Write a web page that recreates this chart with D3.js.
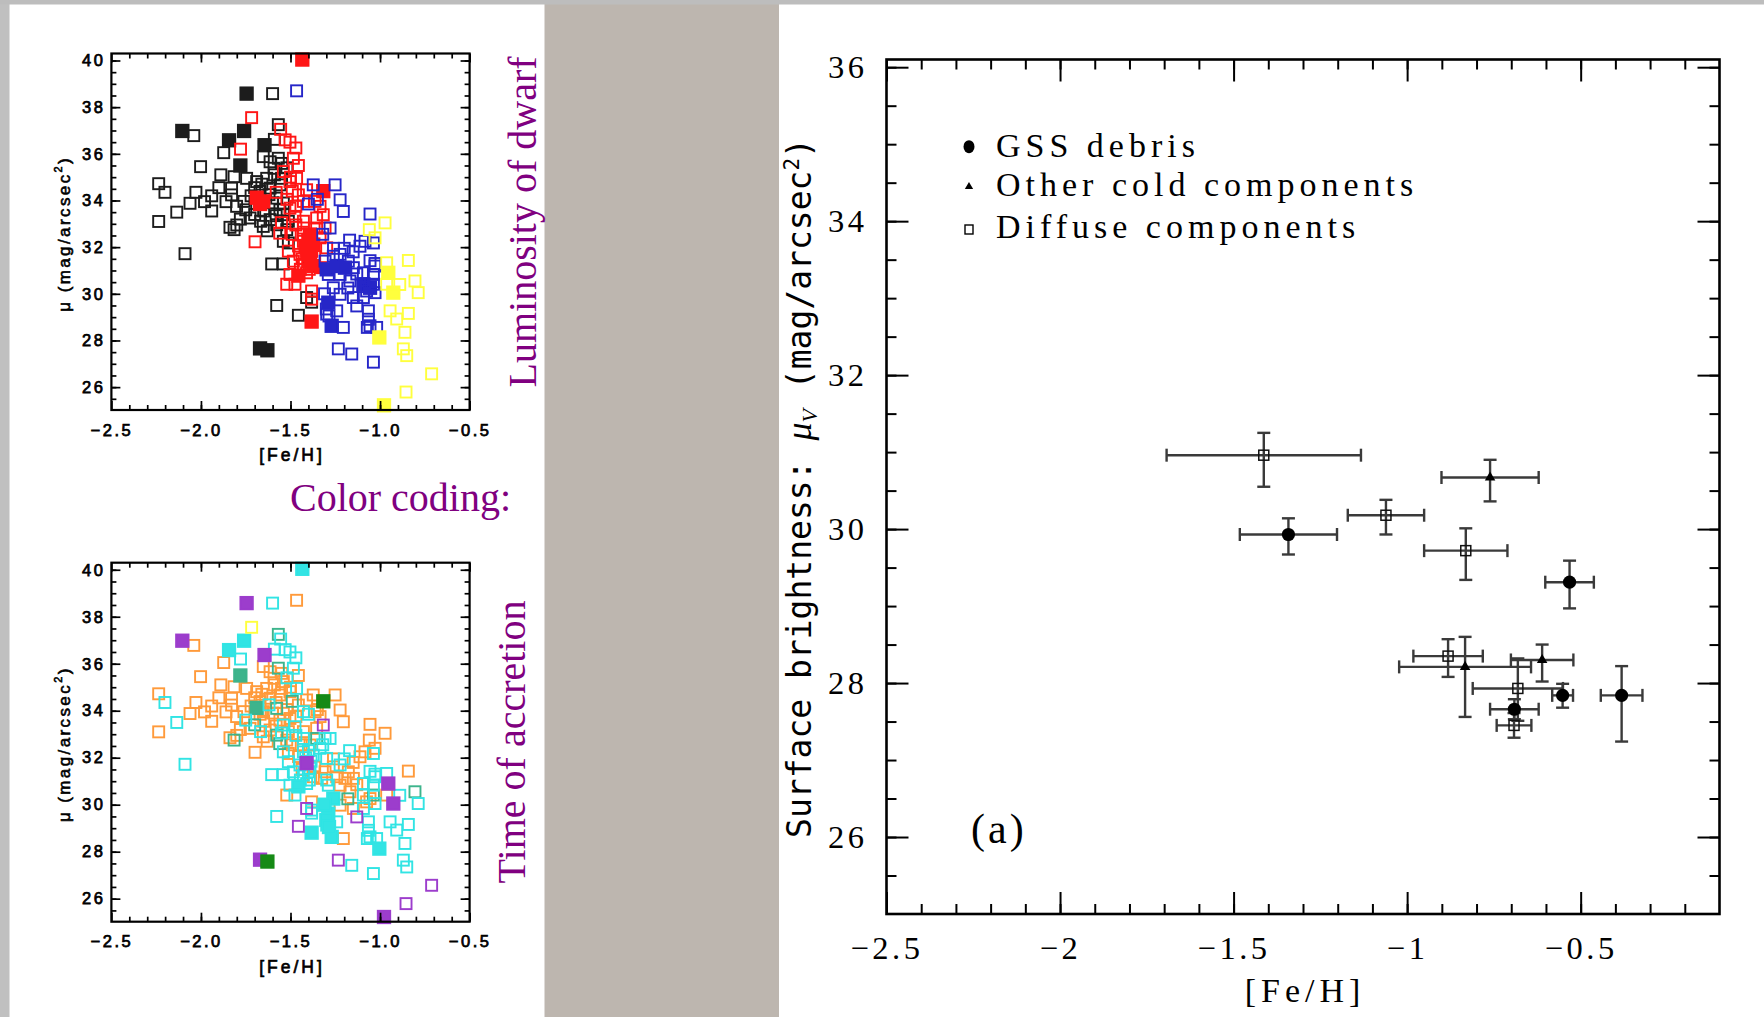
<!DOCTYPE html>
<html>
<head>
<meta charset="utf-8">
<script src="https://cdn.jsdelivr.net/npm/d3@7"></script>
<style>
  body { margin: 0; background: #fff; }
  svg { display: block; }
</style>
</head>
<body>
<svg id="fig" width="1764" height="1017"></svg>
<script>
// Left panels: simulated halo fields, [Fe/H] vs mu, one square per field.
// rows: [feh, mu, accretion-time class, fill]
// fill: 0 open in both panels, 1 filled in both, 2 filled in top panel only, 3 filled in bottom only
const blackPts = [
  [-1.745, 38.58, 'p', 1], [-1.600, 38.58, 'c', 0], [-2.104, 36.98, 'p', 1], [-2.040, 36.78, 'o', 0],
  [-1.759, 36.98, 'c', 1], [-1.568, 37.25, 't', 0], [-1.843, 36.58, 'c', 1], [-1.645, 36.37, 'p', 1],
  [-1.590, 36.62, 'c', 0], [-1.873, 36.05, 'o', 0], [-2.002, 35.45, 'o', 0], [-1.780, 35.50, 't', 1],
  [-1.652, 35.88, 'o', 0], [-1.614, 35.66, 'o', 0], [-1.568, 35.81, 't', 0], [-1.549, 35.59, 'o', 0],
  [-1.592, 35.38, 'o', 0], [-1.889, 35.10, 'o', 0], [-1.815, 35.02, 'o', 0], [-1.745, 34.95, 'o', 0],
  [-1.829, 34.53, 'o', 0], [-2.236, 34.72, 'o', 0], [-2.201, 34.35, 'c', 0], [-2.028, 34.35, 'o', 0],
  [-2.061, 33.88, 'o', 0], [-2.135, 33.50, 'c', 0], [-2.236, 33.10, 'o', 0], [-2.089, 31.72, 'c', 0],
  [-1.940, 34.20, 'o', 0], [-1.940, 33.55, 'o', 0], [-1.829, 34.24, 'o', 0], [-1.801, 33.75, 'o', 0],
  [-1.760, 33.96, 'o', 0], [-1.838, 32.85, 'o', 0], [-1.815, 32.75, 't', 0], [-1.726, 33.25, 'o', 0],
  [-1.667, 33.11, 'c', 0], [-1.652, 32.89, 'o', 0], [-1.614, 33.18, 'o', 0], [-1.577, 32.96, 't', 0],
  [-1.689, 34.81, 'o', 0], [-1.633, 34.95, 'o', 0], [-1.670, 34.39, 'o', 0], [-1.614, 34.53, 'o', 0],
  [-1.559, 34.67, 'o', 0], [-1.577, 34.10, 't', 0], [-1.540, 33.89, 'o', 0], [-1.559, 33.60, 'o', 0],
  [-1.540, 33.39, 'c', 0], [-1.512, 33.11, 'o', 0], [-1.521, 32.75, 'o', 0], [-1.540, 32.25, 'c', 0],
  [-1.512, 32.18, 'o', 0], [-1.605, 31.28, 'c', 0], [-1.540, 31.28, 'c', 0], [-1.577, 29.50, 'c', 0],
  [-1.456, 29.08, 'p', 0], [-1.410, 29.84, 'p', 0], [-1.382, 29.64, 'c', 0], [-1.670, 27.66, 'p', 1],
  [-1.629, 27.58, 'g', 1], [-1.700, 34.55, 'o', 0], [-1.660, 34.70, 'o', 0], [-1.620, 34.25, 'c', 0],
  [-1.600, 33.90, 'o', 0], [-1.650, 33.55, 'o', 0], [-1.700, 33.40, 't', 0], [-1.580, 33.35, 'o', 0],
  [-1.630, 32.70, 'o', 0], [-1.550, 34.95, 'o', 0], [-1.590, 35.10, 'o', 0], [-1.520, 35.40, 'c', 0],
  [-1.720, 34.20, 'o', 0], [-1.750, 33.60, 'c', 0], [-1.780, 33.20, 'o', 0], [-1.860, 33.95, 'o', 0],
  [-1.900, 34.55, 'o', 0], [-1.980, 33.95, 'o', 0], [-1.800, 32.95, 'o', 0]
];
const redPts = [
  [-1.434, 40.04, 'c', 1], [-1.717, 37.55, 'l', 0], [-1.555, 37.05, 'c', 0], [-1.779, 36.20, 'c', 0],
  [-1.503, 36.50, 'c', 0], [-1.530, 36.60, 'c', 0], [-1.470, 36.25, 'c', 0], [-1.484, 35.81, 'c', 0],
  [-1.456, 35.50, 'o', 0], [-1.689, 34.12, 't', 1], [-1.652, 33.96, 'o', 2], [-1.670, 33.85, 'o', 2],
  [-1.698, 32.23, 'o', 0], [-1.317, 34.40, 'g', 1], [-1.540, 35.24, 'o', 0], [-1.503, 34.81, 'o', 0],
  [-1.466, 34.95, 'c', 0], [-1.410, 34.46, 'o', 0], [-1.456, 34.24, 'o', 0], [-1.428, 33.96, 'c', 0],
  [-1.363, 33.96, 'o', 0], [-1.335, 33.75, 'o', 0], [-1.503, 33.67, 'o', 0], [-1.475, 33.32, 'c', 0],
  [-1.428, 33.11, 'o', 0], [-1.354, 33.25, 'o', 0], [-1.317, 33.39, 'p', 0], [-1.354, 32.82, 't', 0],
  [-1.307, 32.82, 'c', 0], [-1.428, 32.82, 'c', 0], [-1.391, 32.54, 'o', 2], [-1.428, 32.25, 'c', 0],
  [-1.373, 32.11, 'c', 2], [-1.410, 31.83, 't', 0], [-1.447, 31.69, 'c', 0], [-1.391, 31.55, 'c', 2],
  [-1.428, 31.26, 'c', 0], [-1.373, 31.19, 'o', 2], [-1.410, 30.90, 'c', 0], [-1.440, 32.55, 'o', 0],
  [-1.400, 32.30, 'c', 2], [-1.455, 32.05, 'o', 0], [-1.415, 32.00, 'c', 2], [-1.385, 31.85, 'c', 2],
  [-1.435, 31.50, 'o', 0], [-1.400, 31.40, 'c', 2], [-1.365, 31.60, 'o', 0], [-1.445, 31.05, 'c', 0],
  [-1.395, 31.05, 'c', 0], [-1.410, 31.77, 'p', 3], [-1.512, 31.83, 'c', 0], [-1.484, 31.40, 'c', 0],
  [-1.503, 30.83, 'c', 0], [-1.521, 30.41, 'o', 0], [-1.335, 32.40, 'c', 0], [-1.298, 31.97, 'c', 0],
  [-1.326, 31.12, 'o', 0], [-1.456, 30.78, 'c', 1], [-1.475, 30.41, 'c', 0], [-1.382, 30.12, 'o', 0],
  [-1.382, 29.77, 'c', 0], [-1.382, 28.81, 'c', 1], [-1.580, 34.35, 'o', 0], [-1.520, 34.05, 'o', 0],
  [-1.490, 34.40, 't', 0], [-1.470, 33.75, 'o', 0], [-1.550, 33.05, 'c', 0], [-1.490, 32.55, 'o', 0],
  [-1.470, 32.95, 'c', 0], [-1.560, 32.60, 't', 0], [-1.500, 35.00, 'o', 0]
];
const bluePts = [
  [-1.466, 38.70, 'o', 0], [-1.373, 34.67, 'o', 0], [-1.251, 34.67, 'o', 0], [-1.223, 34.03, 'o', 0],
  [-1.205, 33.53, 'o', 0], [-1.056, 33.42, 'o', 0], [-1.279, 32.82, 'c', 0], [-1.112, 32.04, 'o', 0],
  [-1.084, 32.25, 'o', 0], [-1.037, 32.18, 'c', 0], [-1.307, 31.40, 'o', 0], [-1.261, 31.61, 'o', 0],
  [-1.223, 31.69, 'c', 0], [-1.177, 31.40, 'o', 0], [-1.149, 31.12, 'o', 0], [-1.289, 30.83, 'c', 0],
  [-1.223, 30.83, 'o', 0], [-1.168, 30.55, 'o', 0], [-1.298, 31.05, 'c', 2], [-1.242, 31.19, 'o', 2],
  [-1.196, 31.12, 'o', 2], [-1.093, 30.41, 'c', 2], [-1.056, 30.26, 'o', 2], [-1.093, 30.90, 'c', 0],
  [-1.037, 30.83, 'c', 0], [-1.028, 31.19, 'c', 0], [-1.261, 30.26, 'c', 3], [-1.223, 29.98, 'o', 0],
  [-1.149, 29.84, 'o', 0], [-1.093, 29.84, 'c', 0], [-1.075, 30.12, 'o', 0], [-1.037, 30.41, 't', 0],
  [-1.028, 30.05, 'c', 0], [-1.298, 29.13, 'c', 0], [-1.242, 29.27, 'c', 0], [-1.130, 29.48, 'p', 0],
  [-1.065, 29.27, 'c', 0], [-1.056, 28.63, 'c', 0], [-1.065, 28.91, 'c', 0], [-1.270, 28.63, 'c', 1],
  [-1.289, 29.62, 'c', 1], [-1.205, 28.56, 'o', 0], [-1.233, 27.64, 'p', 0], [-1.158, 27.42, 'c', 0],
  [-1.037, 27.07, 'c', 0], [-1.019, 28.56, 'c', 0], [-1.028, 31.30, 'c', 0], [-1.056, 31.42, 'c', 0],
  [-1.071, 28.56, 'c', 0], [-1.310, 30.00, 'c', 3], [-1.300, 29.35, 'c', 3], [-1.285, 29.05, 'c', 3],
  [-1.400, 33.85, 'c', 0], [-1.350, 34.05, 'o', 0], [-1.320, 32.55, 'c', 0], [-1.170, 32.30, 'c', 0],
  [-1.150, 31.80, 'o', 0], [-1.200, 31.95, 'c', 0], [-1.260, 31.95, 'o', 0], [-1.130, 30.85, 'o', 0],
  [-1.180, 30.25, 't', 0]
];
const yellowPts = [
  [-1.060, 32.75, 'o', 0], [-1.028, 32.40, 'o', 0], [-0.972, 33.04, 'o', 0], [-0.963, 31.33, 'c', 0],
  [-0.842, 31.43, 'o', 0], [-0.954, 30.90, 'p', 1], [-0.805, 30.55, 't', 0], [-0.787, 30.05, 'c', 0],
  [-0.926, 30.05, 'p', 1], [-0.963, 30.41, 'o', 0], [-0.890, 30.40, 'c', 0], [-0.944, 29.27, 'c', 0],
  [-0.907, 28.92, 'c', 0], [-0.842, 29.16, 'c', 0], [-0.861, 28.35, 'c', 0], [-1.004, 28.13, 'c', 1],
  [-0.870, 27.64, 'c', 0], [-0.851, 27.35, 'c', 0], [-0.712, 26.57, 'p', 0], [-0.855, 25.79, 'p', 0],
  [-0.978, 25.22, 'p', 1]
];

// Right panel: observed fields, [feh, mu, feh err, mu err up, mu err down]
const gssDebris = [
  [-1.342, 29.93, 0.14, 0.21, 0.26], [-0.532, 29.31, 0.07, 0.28, 0.34], [-0.552, 27.84, 0.03, 0.15, 0.16],
  [-0.382, 27.84, 0.06, 0.38, 0.60], [-0.691, 27.66, 0.07, 0.13, 0.13]
];
const otherCold = [
  [-0.761, 30.67, 0.14, 0.23, 0.31], [-0.833, 28.21, 0.19, 0.39, 0.65], [-0.611, 28.30, 0.09, 0.20, 0.28]
];
const diffuse = [
  [-1.413, 30.96, 0.28, 0.29, 0.41], [-1.061, 30.18, 0.11, 0.20, 0.25], [-0.831, 29.72, 0.12, 0.29, 0.38],
  [-0.882, 28.35, 0.10, 0.22, 0.27], [-0.681, 27.93, 0.13, 0.39, 0.42], [-0.692, 27.45, 0.05, 0.16, 0.16]
];

const leftXTicks = [-2.5, -2.0, -1.5, -1.0, -0.5];
const leftYTicks = [26, 28, 30, 32, 34, 36, 38, 40];
const rightXTicks = [-2.5, -2, -1.5, -1, -0.5];
const rightYTicks = [26, 28, 30, 32, 34, 36];
const legendLabels = ['GSS debris', 'Other cold components', 'Diffuse components'];

const lumColor = { k: '#1c1c1c', r: '#ff1414', b: '#2626c8', y: '#ffff3c' };
const accColor = { o: '#ff9a3a', c: '#30e4e4', t: '#3cb48c', p: '#9c3ccc', g: '#148a14', l: '#ffff3c' };
const accOrder = ['o', 't', 'c', 'l', 'p', 'g'];

const svg = d3.select('#fig');
svg.append('defs').append('filter').attr('id', 'soft')
  .append('feGaussianBlur').attr('stdDeviation', 0.6);

// page background pieces of the slide
svg.append('rect').attr('width', 1764).attr('height', 1017).attr('fill', '#fff');
svg.append('rect').attr('x', 0).attr('y', 0).attr('width', 9.5).attr('height', 1017).attr('fill', '#c0c0c0');
svg.append('rect').attr('x', 544.5).attr('y', 0).attr('width', 234.5).attr('height', 1017).attr('fill', '#bdb6af');
svg.append('rect').attr('x', 0).attr('y', 0).attr('width', 1764).attr('height', 4.5).attr('fill', '#bdbdbd');

function frameAxes(g, x, y, o) {
  const [xl, xr] = x.range();
  const [yb, yt] = y.range();
  const clean = (s) => {
    s.select('.domain').remove();
    s.selectAll('line').attr('stroke', '#000').attr('stroke-width', o.tickW);
  };
  const sides = [
    [d3.axisBottom, `translate(0,${yb})`, x],
    [d3.axisTop, `translate(0,${yt})`, x],
    [d3.axisLeft, `translate(${xl},0)`, y],
    [d3.axisRight, `translate(${xr},0)`, y],
  ];
  sides.forEach(([axis, tr, sc], i) => {
    const isX = i < 2;
    g.append('g').attr('transform', tr)
      .call(axis(sc).tickValues(isX ? o.xMinor : o.yMinor).tickSize(-o.minLen).tickFormat(''))
      .call(clean);
    const maj = g.append('g').attr('transform', tr)
      .call(axis(sc).tickValues(isX ? o.xMajor : o.yMajor).tickSize(-o.majLen)
        .tickPadding(i === 0 ? o.xPad : o.yPad)
        .tickFormat(i === 0 ? o.xFmt : i === 2 ? o.yFmt : ''))
      .call(clean);
    maj.attr('font-family', o.font).attr('font-size', o.fontSize);
    maj.selectAll('text').attr('fill', '#000').style('letter-spacing', o.ls + 'px')
      .attr('stroke', o.textStroke || 'none').attr('stroke-width', o.textStrokeW || 0);
    if (i === 0 && o.xBase != null) maj.selectAll('text').attr('dy', null).attr('y', o.xBase);
  });
  g.append('rect')
    .attr('x', xl).attr('y', yt).attr('width', xr - xl).attr('height', yb - yt)
    .attr('fill', 'none').attr('stroke', '#000').attr('stroke-width', o.frameW);
}

function leftPanel(top, bottom, mode) {
  const x = d3.scaleLinear().domain([-2.5, -0.5]).range([111.4, 469.6]);
  const y = d3.scaleLinear().domain([25.02, 40.3]).range([bottom, top]);
  const g = svg.append('g');

  let pts = [];
  [['k', blackPts], ['r', redPts], ['b', bluePts], ['y', yellowPts]].forEach(([lum, arr]) => {
    arr.forEach((d) => pts.push({ x: d[0], y: d[1], lum, acc: d[2], f: d[3] }));
  });
  if (mode === 'acc') {
    pts = pts.slice().sort((a, b) => accOrder.indexOf(a.acc) - accOrder.indexOf(b.acc));
  }
  const isFilled = (d) => (mode === 'lum' ? d.f === 1 || d.f === 2 : d.f === 1 || d.f === 3);
  const col = (d) => (mode === 'lum' ? lumColor[d.lum] : accColor[d.acc]);
  const side = (d) => (isFilled(d) ? 12.4 : 11);

  g.append('g').attr('filter', 'url(#soft)')
    .selectAll('rect')
    .data(pts)
    .join('rect')
    .attr('x', (d) => x(d.x) - side(d) / 2)
    .attr('y', (d) => y(d.y) - side(d) / 2)
    .attr('width', side)
    .attr('height', side)
    .attr('fill', (d) => (isFilled(d) ? col(d) : 'none'))
    .attr('stroke', col)
    .attr('stroke-width', 1.9);

  frameAxes(g, x, y, {
    xMajor: leftXTicks, xMinor: d3.range(-24, -5).map((v) => v / 10),
    yMajor: leftYTicks, yMinor: d3.range(51, 81).map((v) => v / 2),
    majLen: 9, minLen: 5, tickW: 1.7, frameW: 2.2,
    xPad: 14, yPad: 6, xFmt: d3.format('.1f'), yFmt: d3.format('d'),
    font: '"Liberation Sans", Arial, sans-serif', fontSize: 16.5, ls: 2.5,
    textStroke: '#000', textStrokeW: 0.75,
  });

  g.append('text')
    .attr('x', 292).attr('y', bottom + 51)
    .attr('text-anchor', 'middle')
    .attr('font-family', '"Liberation Sans", Arial, sans-serif')
    .attr('font-size', 17.5).style('letter-spacing', '3px')
    .attr('stroke', '#000').attr('stroke-width', 0.7)
    .text('[Fe/H]');

  const yl = g.append('text')
    .attr('transform', `translate(70,${(top + bottom) / 2 + 2}) rotate(-90)`)
    .attr('text-anchor', 'middle')
    .attr('font-family', '"Liberation Sans", Arial, sans-serif')
    .attr('font-size', 17).style('letter-spacing', '2.4px')
    .attr('stroke', '#000').attr('stroke-width', 0.6);
  yl.append('tspan').text('μ (mag/arcsec');
  yl.append('tspan').attr('font-size', 11).attr('dy', -8).text('2');
  yl.append('tspan').attr('dy', 8).text(')');
}

leftPanel(53.5, 410, 'lum');
leftPanel(562.7, 921.7, 'acc');

const purple = '#800080';
const serif = '"Liberation Serif", "Times New Roman", serif';
svg.append('text')
  .attr('transform', 'translate(536,222) rotate(-90)')
  .attr('text-anchor', 'middle').attr('font-family', serif).attr('font-size', 40)
  .attr('fill', purple).text('Luminosity of dwarf');
svg.append('text')
  .attr('x', 290).attr('y', 511)
  .attr('font-family', serif).attr('font-size', 40)
  .attr('fill', purple).text('Color coding:');
svg.append('text')
  .attr('transform', 'translate(525,742) rotate(-90)')
  .attr('text-anchor', 'middle').attr('font-family', serif).attr('font-size', 40)
  .attr('fill', purple).text('Time of accretion');

// ---- right panel ----
const rx = d3.scaleLinear().domain([-2.5, -0.1]).range([886.5, 1719.5]);
const ry = d3.scaleLinear().domain([25, 36.1]).range([914, 59.5]);
const rg = svg.append('g');

frameAxes(rg, rx, ry, {
  xMajor: rightXTicks, xMinor: d3.range(-24, -1).map((v) => v / 10),
  yMajor: rightYTicks, yMinor: d3.range(51, 73).map((v) => v / 2),
  majLen: 22, minLen: 10, tickW: 2, frameW: 2.6,
  xPad: 23, yPad: 19, xBase: 45, xFmt: d3.format('.1~f'), yFmt: d3.format('d'),
  font: serif, fontSize: 32.5, ls: 3.5,
});

const errColor = '#3a3a3a';
const cap = 6.5;
function errorBars(data) {
  const eg = rg.append('g').attr('stroke', errColor).attr('stroke-width', 2.4).attr('fill', 'none');
  data.forEach(([fx, mu, xe, up, dn]) => {
    const cx = rx(fx), cy = ry(mu);
    const x0 = rx(fx - xe), x1 = rx(fx + xe), y0 = ry(mu + up), y1 = ry(mu - dn);
    eg.append('line').attr('x1', x0).attr('x2', x1).attr('y1', cy).attr('y2', cy);
    eg.append('line').attr('x1', x0).attr('x2', x0).attr('y1', cy - cap).attr('y2', cy + cap);
    eg.append('line').attr('x1', x1).attr('x2', x1).attr('y1', cy - cap).attr('y2', cy + cap);
    eg.append('line').attr('x1', cx).attr('x2', cx).attr('y1', y0).attr('y2', y1);
    eg.append('line').attr('x1', cx - cap).attr('x2', cx + cap).attr('y1', y0).attr('y2', y0);
    eg.append('line').attr('x1', cx - cap).attr('x2', cx + cap).attr('y1', y1).attr('y2', y1);
  });
}
errorBars(diffuse);
errorBars(otherCold);
errorBars(gssDebris);

rg.append('g').selectAll('rect').data(diffuse).join('rect')
  .attr('x', (d) => rx(d[0]) - 5).attr('y', (d) => ry(d[1]) - 5)
  .attr('width', 10).attr('height', 10)
  .attr('fill', 'none').attr('stroke', '#111').attr('stroke-width', 1.5);
rg.append('g').selectAll('path').data(otherCold).join('path')
  .attr('transform', (d) => `translate(${rx(d[0])},${ry(d[1])})`)
  .attr('d', d3.symbol(d3.symbolTriangle, 48))
  .attr('fill', '#000');
rg.append('g').selectAll('circle').data(gssDebris).join('circle')
  .attr('cx', (d) => rx(d[0])).attr('cy', (d) => ry(d[1])).attr('r', 6.6)
  .attr('fill', '#000');

// legend
const lg = rg.append('g');
const legendY = [146.7, 186.7, 229.5];
const legendBase = [157, 196, 238];
lg.append('ellipse').attr('cx', 969).attr('cy', legendY[0]).attr('rx', 5.5).attr('ry', 6.5).attr('fill', '#000');
lg.append('path').attr('transform', `translate(969,${legendY[1]})`)
  .attr('d', d3.symbol(d3.symbolTriangle, 30)).attr('fill', '#000');
lg.append('rect').attr('x', 965).attr('y', legendY[2] - 4.5).attr('width', 8).attr('height', 9)
  .attr('fill', 'none').attr('stroke', '#000').attr('stroke-width', 1.4);
lg.selectAll('text').data(legendLabels).join('text')
  .attr('x', 996).attr('y', (d, i) => legendBase[i])
  .attr('font-family', serif).attr('font-size', 34).style('letter-spacing', '5px')
  .attr('fill', '#000').text((d) => d);

rg.append('text').attr('x', 971).attr('y', 843)
  .attr('font-family', serif).attr('font-size', 42).style('letter-spacing', '3px')
  .attr('fill', '#000').text('(a)');

rg.append('text').attr('x', 1305).attr('y', 1002).attr('text-anchor', 'middle')
  .attr('font-family', serif).attr('font-size', 34).style('letter-spacing', '5px')
  .attr('fill', '#000').text('[Fe/H]');

const syl = rg.append('text')
  .attr('transform', 'translate(811,488) rotate(-90)')
  .attr('text-anchor', 'middle')
  .attr('font-family', '"DejaVu Sans Mono", "Liberation Mono", monospace')
  .attr('font-size', 33).attr('fill', '#000');
syl.append('tspan').text('Surface brightness: ');
syl.append('tspan').attr('font-family', serif).attr('font-style', 'italic').attr('font-size', 36).text('μ');
syl.append('tspan').attr('font-family', serif).attr('font-style', 'italic').attr('font-size', 22).attr('dy', 6).text('V');
syl.append('tspan').attr('dy', -6).text(' (mag/arcsec');
syl.append('tspan').attr('font-size', 21).attr('dy', -12).text('2');
syl.append('tspan').attr('dy', 12).text(')');
</script>
</body>
</html>
